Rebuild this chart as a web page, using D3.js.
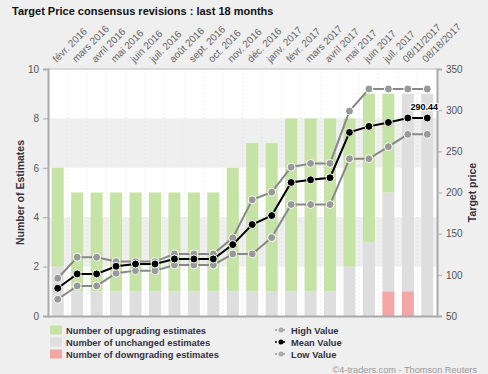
<!DOCTYPE html>
<html lang="fr">
<head>
<meta charset="utf-8">
<title>Target Price consensus revisions</title>
<script src="https://cdn.jsdelivr.net/npm/d3@7"></script>
<style>
  body { margin: 0; background: #fff; }
  text { font-family: "Liberation Sans", Arial, sans-serif; }
</style>
</head>
<body>
<script>
// data
var months = ["févr. 2016", "mars 2016", "avril 2016", "mai 2016", "juin 2016", "juil. 2016",
  "août 2016", "sept. 2016", "oct. 2016", "nov. 2016", "déc. 2016", "janv. 2017", "févr. 2017",
  "mars 2017", "avril 2017", "mai 2017", "juin 2017", "juil. 2017", "08/11/2017", "08/18/2017"];
var downgrading = [0, 0, 0, 0, 0, 0, 0, 0, 0, 0, 0, 0, 0, 0, 0, 0, 0, 1, 1, 0];
var unchanged   = [2, 1, 1, 1, 1, 1, 1, 1, 1, 1, 1, 1, 1, 1, 1, 2, 3, 4, 8, 9];
var upgrading   = [4, 4, 4, 4, 4, 4, 4, 4, 4, 5, 6, 6, 7, 7, 7, 6, 6, 4, 0, 0];
var highValue = [95.9, 121.4, 121.4, 116.1, 116.1, 116.1, 125.4, 125.4, 125.4, 144.9,
  191.1, 200.4, 230.8, 235.3, 235.3, 298.9, 325.7, 325.7, 325.7, 325.7];
var meanValue = [83.7, 101.1, 101.1, 110.4, 113.2, 113.2, 119.3, 119.3, 119.3, 136.7,
  161.1, 172.0, 212.2, 215.4, 217.9, 273.0, 280.3, 285.1, 290.44, 290.44];
var lowValue = [70.3, 86.5, 86.5, 101.9, 105.1, 105.1, 112.0, 112.0, 112.0, 125.4,
  125.4, 145.3, 185.4, 185.4, 185.4, 241.0, 241.0, 255.6, 270.6, 270.6];
var leftTicks = [0, 2, 4, 6, 8, 10];
var rightTicks = [50, 100, 150, 200, 250, 300, 350];

var W = 488, H = 374;
var plot = {left: 48, right: 437, top: 69, bottom: 316};

var svg = d3.select("body").append("svg")
  .attr("width", W).attr("height", H);

svg.append("rect").attr("width", W).attr("height", H).attr("fill", "#efefef");

svg.append("text")
  .attr("x", 12).attr("y", 15)
  .attr("font-size", 11).attr("font-weight", "bold").attr("fill", "#111")
  .text("Target Price consensus revisions : last 18 months");

var x = d3.scaleBand().domain(months).range([plot.left, plot.right]).paddingInner(0).paddingOuter(0);
var yL = d3.scaleLinear().domain([0, 10]).range([plot.bottom, plot.top]);
var yR = d3.scaleLinear().domain([50, 350]).range([plot.bottom, plot.top]);

// plot background and bands
svg.append("rect")
  .attr("x", plot.left).attr("y", plot.top)
  .attr("width", plot.right - plot.left).attr("height", plot.bottom - plot.top)
  .attr("fill", "#fff");
[[2, 4], [6, 8]].forEach(function (b) {
  svg.append("rect")
    .attr("x", plot.left).attr("y", yL(b[1]))
    .attr("width", plot.right - plot.left).attr("height", yL(b[0]) - yL(b[1]))
    .attr("fill", "#efefef");
});
// faint dotted vertical grid
svg.append("g").selectAll("line")
  .data(months.slice(1))
  .enter().append("line")
  .attr("x1", function (d) { return x(d); })
  .attr("x2", function (d) { return x(d); })
  .attr("y1", plot.top).attr("y2", plot.bottom)
  .attr("stroke", "#ddd").attr("stroke-dasharray", "1,3");

// stacked bars: downgrading at bottom, unchanged, upgrading
var series = [
  {name: "down", values: downgrading, color: "#f2a6a6"},
  {name: "unch", values: unchanged, color: "#dedede"},
  {name: "up", values: upgrading, color: "#c6e3a6"}
];
var bw = x.bandwidth() * 0.62;
var base = months.map(function () { return 0; });
series.forEach(function (s) {
  svg.append("g").selectAll("rect")
    .data(s.values)
    .enter().append("rect")
    .attr("x", function (d, i) { return x(months[i]) + (x.bandwidth() - bw) / 2; })
    .attr("y", function (d, i) { return yL(base[i] + d); })
    .attr("width", bw)
    .attr("height", function (d) { return yL(0) - yL(d); })
    .attr("fill", s.color);
  s.values.forEach(function (v, i) { base[i] += v; });
});

// frame
svg.append("line").attr("x1", plot.left).attr("x2", plot.right)
  .attr("y1", plot.top).attr("y2", plot.top).attr("stroke", "#bbb").attr("stroke-width", 1);
svg.append("line").attr("x1", plot.left).attr("x2", plot.right)
  .attr("y1", plot.bottom + 0.5).attr("y2", plot.bottom + 0.5).attr("stroke", "#aaa").attr("stroke-width", 2);

// axes
var leftAxis = svg.append("g")
  .attr("transform", "translate(" + plot.left + ",0)")
  .call(d3.axisLeft(yL).tickValues(leftTicks).tickSize(5).tickPadding(4));
var rightAxis = svg.append("g")
  .attr("transform", "translate(" + plot.right + ",0)")
  .call(d3.axisRight(yR).tickValues(rightTicks).tickSize(5).tickPadding(4));
[leftAxis, rightAxis].forEach(function (a) {
  a.select(".domain").attr("stroke", "#aaa").attr("stroke-width", 2);
  a.selectAll(".tick line").attr("stroke", "#aaa");
  a.selectAll(".tick text").attr("fill", "#555").attr("font-size", 10)
    .attr("font-family", "'Liberation Sans', Arial, sans-serif");
});

// rotated month labels at top
svg.append("g").selectAll("text")
  .data(months)
  .enter().append("text")
  .attr("transform", function (d) {
    return "translate(" + (x(d) + x.bandwidth() / 2 - 1) + "," + (plot.top - 6) + ") rotate(-45)";
  })
  .attr("font-size", 10).attr("fill", "#666")
  .text(function (d) { return d; });

// axis titles
svg.append("text")
  .attr("transform", "translate(24," + ((plot.top + plot.bottom) / 2) + ") rotate(-90)")
  .attr("text-anchor", "middle").attr("font-size", 10.5).attr("font-weight", "bold")
  .attr("fill", "#333344").text("Number of Estimates");
svg.append("text")
  .attr("transform", "translate(476," + ((plot.top + plot.bottom) / 2) + ") rotate(-90)")
  .attr("text-anchor", "middle").attr("font-size", 10.5).attr("font-weight", "bold")
  .attr("fill", "#333344").text("Target price");

// price lines
var lines = [
  {name: "High Value", values: highValue, line: "#888", dot: "#999"},
  {name: "Low Value", values: lowValue, line: "#888", dot: "#999"},
  {name: "Mean Value", values: meanValue, line: "#000", dot: "#000"}
];
var lineGen = d3.line()
  .x(function (d, i) { return x(months[i]) + x.bandwidth() / 2; })
  .y(function (d) { return yR(d); });
lines.forEach(function (l) {
  svg.append("path").datum(l.values)
    .attr("d", lineGen).attr("fill", "none")
    .attr("stroke", l.line).attr("stroke-width", 2);
  svg.append("g").selectAll("circle")
    .data(l.values)
    .enter().append("circle")
    .attr("cx", function (d, i) { return x(months[i]) + x.bandwidth() / 2; })
    .attr("cy", function (d) { return yR(d); })
    .attr("r", 4)
    .attr("fill", l.dot).attr("stroke", "#fff").attr("stroke-width", 1);
});

// last mean label
var lastI = meanValue.length - 1;
svg.append("text")
  .attr("x", x(months[lastI]) + x.bandwidth() / 2 - 3)
  .attr("y", yR(meanValue[lastI]) - 8)
  .attr("text-anchor", "middle").attr("font-size", 9).attr("font-weight", "bold")
  .attr("stroke", "#fff").attr("stroke-width", 2).attr("paint-order", "stroke")
  .attr("fill", "#000").text(d3.format(".2f")(meanValue[lastI]));

// legend
var legL = [
  {label: "Number of upgrading estimates", color: "#c6e3a6"},
  {label: "Number of unchanged estimates", color: "#dedede"},
  {label: "Number of downgrading estimates", color: "#f2a6a6"}
];
var legRows = [330, 342, 354];
legL.forEach(function (d, i) {
  svg.append("rect").attr("x", 50).attr("y", legRows[i] - 4.5)
    .attr("width", 12).attr("height", 9).attr("fill", d.color);
  svg.append("text").attr("x", 66).attr("y", legRows[i] + 3.5)
    .attr("font-size", 9.3).attr("font-weight", "bold").attr("fill", "#333344").text(d.label);
});
var legR = [
  {label: "High Value", line: "#999", dot: "#aaa"},
  {label: "Mean Value", line: "#000", dot: "#000"},
  {label: "Low Value", line: "#999", dot: "#aaa"}
];
legR.forEach(function (d, i) {
  svg.append("line").attr("x1", 275).attr("x2", 287)
    .attr("y1", legRows[i]).attr("y2", legRows[i])
    .attr("stroke", d.line).attr("stroke-width", 1.5).attr("stroke-dasharray", "2,2");
  svg.append("circle").attr("cx", 281).attr("cy", legRows[i]).attr("r", 2.5).attr("fill", d.dot);
  svg.append("text").attr("x", 291).attr("y", legRows[i] + 3.5)
    .attr("font-size", 9.3).attr("font-weight", "bold").attr("fill", "#333344").text(d.label);
});

svg.append("text")
  .attr("x", 477).attr("y", 373)
  .attr("text-anchor", "end").attr("font-size", 9.2).attr("fill", "#999")
  .text("©4-traders.com - Thomson Reuters");
</script>
</body>
</html>
